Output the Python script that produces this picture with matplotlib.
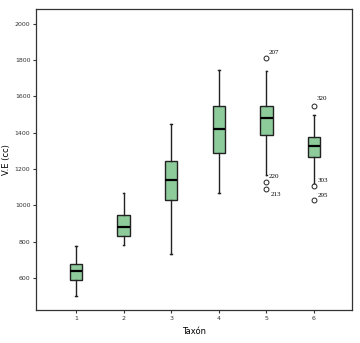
import matplotlib.pyplot as plt

# Summary statistics per taxon (V.E in cc)
taxa = [1, 2, 3, 4, 5, 6]
whislo = [501, 782, 731, 1065, 1168, 1115]
q1 = [589, 828, 1030, 1288, 1387, 1266]
med = [639, 878, 1140, 1420, 1480, 1328]
q3 = [674, 946, 1245, 1550, 1548, 1379]
whishi = [777, 1070, 1447, 1746, 1741, 1499]
fliers = [[], [], [], [], [1813, 1126, 1089], [1548, 1104, 1030]]
flier_ids = [[], [], [], [], ["207", "220", "213"], ["320", "303", "295"]]

stats = []
for i in range(len(taxa)):
    stats.append(dict(whislo=whislo[i], q1=q1[i], med=med[i], q3=q3[i],
                      whishi=whishi[i], fliers=fliers[i], label=str(taxa[i])))

fig = plt.figure(figsize=(3.6, 3.43), dpi=100)
ax = fig.add_axes([0.1, 0.095, 0.878, 0.879])

ax.bxp(stats, positions=taxa, widths=0.26, patch_artist=True,
       boxprops=dict(facecolor='#8ecb9b', edgecolor='#222222', linewidth=1.0),
       medianprops=dict(color='black', linewidth=1.6),
       whiskerprops=dict(color='#222222', linewidth=1.0),
       capprops=dict(color='#222222', linewidth=1.0),
       capwidths=0.03,
       flierprops=dict(marker='o', markersize=3.5, markerfacecolor='white',
                       markeredgecolor='#222222', markeredgewidth=0.7))

# case labels beside outliers
offsets = {"207": (2, 4), "220": (2, 4), "213": (3, -4), "320": (2, 5), "303": (3, 4), "295": (3, 3)}
for i in range(len(taxa)):
    for v, lab in zip(fliers[i], flier_ids[i]):
        ax.annotate(lab, (taxa[i], v), xytext=offsets[lab], textcoords='offset points',
                    fontsize=5, family='Liberation Serif', ha='left', va='center')

ax.set_xlim(0.16, 6.8)
ax.set_ylim(420, 2083)
ax.set_yticks([600, 800, 1000, 1200, 1400, 1600, 1800, 2000])
ax.set_xticks(taxa)
ax.tick_params(axis='both', labelsize=4.5, length=2.5, width=0.8, color='#333333',
               labelcolor='#333333', pad=1.5)
for s in ax.spines.values():
    s.set_linewidth(0.9)
    s.set_color('#333333')

ax.set_xlabel('Taxón', fontsize=6, labelpad=4)
ax.set_ylabel('V.E (cc)', fontsize=6, labelpad=3)

fig.savefig('out.png', dpi=100)
